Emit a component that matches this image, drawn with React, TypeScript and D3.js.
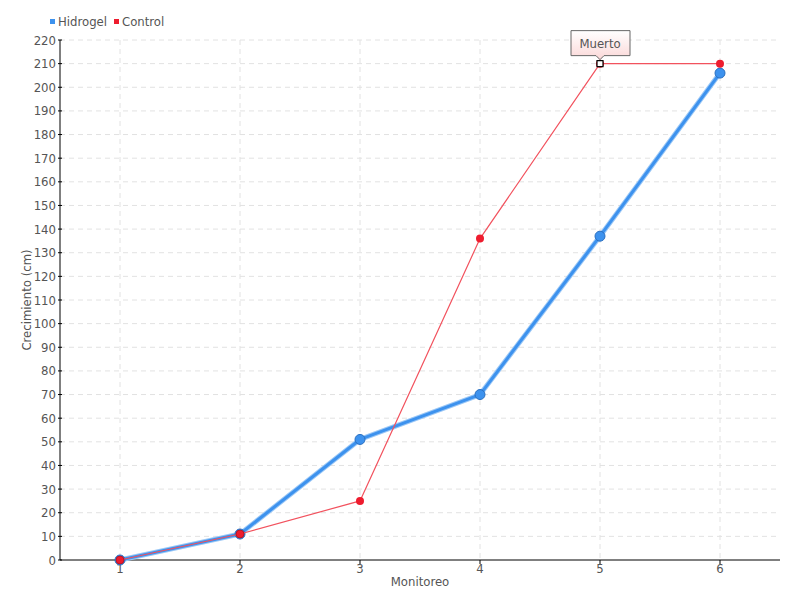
import React from "react";
import * as d3 from "d3";

const categories = ["1", "2", "3", "4", "5", "6"];
const hidrogel = [0, 11, 51, 70, 137, 206];
const control = [0, 11, 25, 136, 210, 210];
const yTicks = d3.range(0, 221, 10);
const annotationIndex = 4;
const annotationText = "Muerto";
const legendItems = [
  { name: "Hidrogel", color: "#3d92ee" },
  { name: "Control", color: "#ee1c2e" },
];

const W = 800, H = 600;
const M = { left: 60, right: 20, top: 40, bottom: 40 };
const FONT = "'DejaVu Sans Condensed', 'DejaVu Sans', sans-serif";
const TXT = "#555";

export default function App() {
  const x = d3.scalePoint<string>().domain(categories).range([M.left, W - M.right]).padding(0.5);
  const y = d3.scaleLinear().domain([0, 220]).range([H - M.bottom, M.top]);
  const line = d3.line<number>().x((_, i) => x(categories[i])!).y((d) => y(d));
  const x0 = M.left, x1 = W - M.right, y0 = H - M.bottom, y1 = M.top;
  const ax = x(categories[annotationIndex])!;
  const ay = y(control[annotationIndex]);
  return (
    <svg width={W} height={H} style={{ position: "absolute", left: 0, top: 0, background: "#fff" }} fontFamily={FONT}>
      <defs>
        <linearGradient id="annGrad" x1="0" y1="0" x2="0" y2="1">
          <stop offset="0" stopColor="#ffffff" />
          <stop offset="1" stopColor="#fbd8d8" />
        </linearGradient>
      </defs>
      {/* grid */}
      {yTicks.slice(1).map((t) => (
        <line key={"gy" + t} x1={x0} x2={x1} y1={y(t)} y2={y(t)} stroke="#e2e2e2" strokeDasharray="5,4" />
      ))}
      {categories.map((c) => (
        <line key={"gx" + c} x1={x(c)!} x2={x(c)!} y1={y1} y2={y0} stroke="#e2e2e2" strokeDasharray="5,4" />
      ))}
      {/* axes */}
      <line x1={x0} x2={x0} y1={y1} y2={y0} stroke="#000" />
      <line x1={x0} x2={x1} y1={y0} y2={y0} stroke="#000" />
      {yTicks.map((t) => (
        <g key={"ty" + t}>
          <line x1={x0 - 2} x2={x0 + 2} y1={y(t)} y2={y(t)} stroke="#000" />
          <text x={x0 - 4} y={y(t)} dy="0.35em" textAnchor="end" fontSize={13} fill={TXT}>{t}</text>
        </g>
      ))}
      {categories.map((c) => (
        <g key={"tx" + c}>
          <line x1={x(c)!} x2={x(c)!} y1={y0} y2={y0 + 4} stroke="#000" />
          <text x={x(c)!} y={y0 + 13} textAnchor="middle" fontSize={13} fill={TXT}>{c}</text>
        </g>
      ))}
      <text x={(x0 + x1) / 2} y={586} textAnchor="middle" fontSize={13} fill={TXT}>Monitoreo</text>
      <text transform={`translate(31,${(y0 + y1) / 2}) rotate(-90)`} textAnchor="middle" fontSize={13} fill={TXT}>Crecimiento (cm)</text>
      {/* legend */}
      {legendItems.map((l, i) => {
        const lx = 50 + i * 64;
        return (
          <g key={l.name}>
            <rect x={lx} y={19} width={5} height={5} fill={l.color} />
            <text x={lx + 8} y={26} fontSize={13} fill={TXT}>{l.name}</text>
          </g>
        );
      })}
      {/* Hidrogel series */}
      <path d={line(hidrogel)!} fill="none" stroke="#9cc8f6" strokeWidth={5} strokeLinejoin="round" />
      <path d={line(hidrogel)!} fill="none" stroke="#3d92ee" strokeWidth={3} strokeLinejoin="round" />
      {hidrogel.map((v, i) => (
        <circle key={"h" + i} cx={x(categories[i])!} cy={y(v)} r={5} fill="#3d92ee" stroke="#2a6fc0" strokeWidth={1} />
      ))}
      {/* Control series */}
      <path d={line(control)!} fill="none" stroke="#f2525e" strokeWidth={1.2} />
      {control.map((v, i) =>
        i === annotationIndex ? null : (
          <circle key={"c" + i} cx={x(categories[i])!} cy={y(v)} r={4} fill="#ee1c2e" stroke={i < 2 ? "#b01020" : "none"} strokeWidth={0.8} />
        )
      )}
      {/* annotation */}
      <circle cx={ax} cy={ay} r={4} fill="#ee1c2e" />
      <rect x={ax - 3} y={ay - 3} width={6} height={6} fill="#fff" stroke="#000" strokeWidth={1.2} />
      <path
        d={`M${ax - 29},${ay - 33} H${ax + 30} V${ay - 8} H${ax + 4} L${ax},${ay - 4} L${ax - 4},${ay - 8} H${ax - 29} Z`}
        fill="url(#annGrad)"
        stroke="#666"
        strokeWidth={1}
      />
      <text x={ax} y={ay - 16} textAnchor="middle" fontSize={13} fill={TXT}>{annotationText}</text>
    </svg>
  );
}
